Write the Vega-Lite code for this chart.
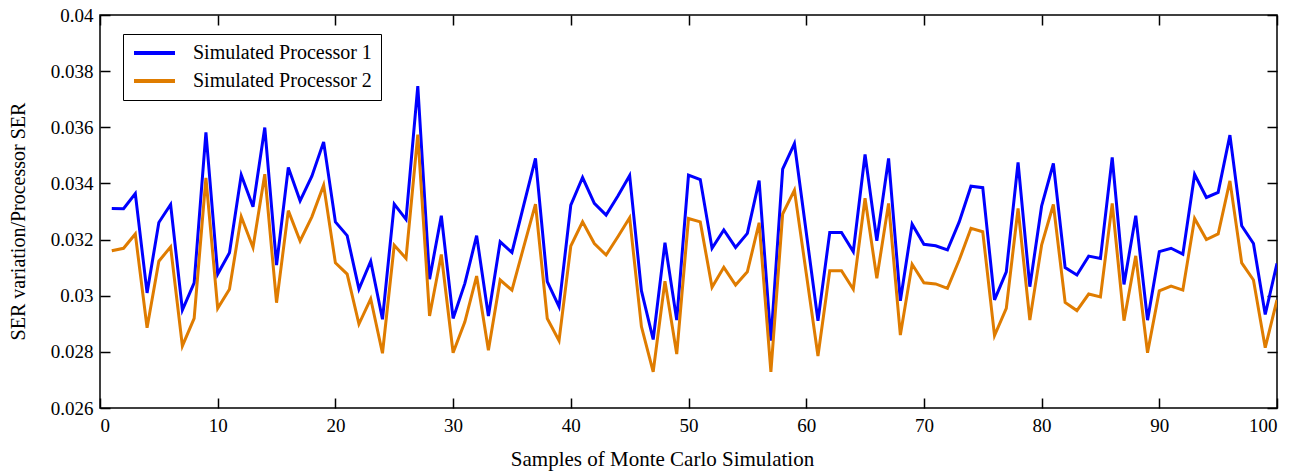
{
  "$schema": "https://vega.github.io/schema/vega-lite/v6.json",
  "width": 1177,
  "height": 393,
  "autosize": "none",
  "padding": {"left": 100, "top": 15, "right": 27, "bottom": 66},
  "background": "white",
  "config": {
    "view": {"stroke": "black", "strokeWidth": 1.5},
    "font": "Liberation Serif",
    "axis": {
      "domain": false,
      "grid": false,
      "tickColor": "black",
      "tickWidth": 1.5,
      "tickSize": -10,
      "labelFont": "Liberation Serif",
      "labelFontSize": 19,
      "labelColor": "black",
      "titleFont": "Liberation Serif",
      "titleFontSize": 20,
      "titleFontWeight": "normal",
      "titleColor": "black"
    }
  },
  "data": {
    "values": [
      {"s": 1, "p1": 0.03311, "p2": 0.0316},
      {"s": 2, "p1": 0.0331, "p2": 0.03169},
      {"s": 3, "p1": 0.03364, "p2": 0.0322},
      {"s": 4, "p1": 0.0301, "p2": 0.02886},
      {"s": 5, "p1": 0.03261, "p2": 0.03123},
      {"s": 6, "p1": 0.03325, "p2": 0.03174},
      {"s": 7, "p1": 0.02949, "p2": 0.02821},
      {"s": 8, "p1": 0.03046, "p2": 0.02919},
      {"s": 9, "p1": 0.03582, "p2": 0.0342},
      {"s": 10, "p1": 0.03077, "p2": 0.02955},
      {"s": 11, "p1": 0.03153, "p2": 0.03023},
      {"s": 12, "p1": 0.0343, "p2": 0.03281},
      {"s": 13, "p1": 0.03317, "p2": 0.03172},
      {"s": 14, "p1": 0.03599, "p2": 0.03433},
      {"s": 15, "p1": 0.03109, "p2": 0.02975},
      {"s": 16, "p1": 0.03457, "p2": 0.03303},
      {"s": 17, "p1": 0.03338, "p2": 0.03195},
      {"s": 18, "p1": 0.03426, "p2": 0.03281},
      {"s": 19, "p1": 0.03548, "p2": 0.03394},
      {"s": 20, "p1": 0.03263, "p2": 0.03117},
      {"s": 21, "p1": 0.03214, "p2": 0.03077},
      {"s": 22, "p1": 0.03024, "p2": 0.02899},
      {"s": 23, "p1": 0.03123, "p2": 0.02989},
      {"s": 24, "p1": 0.02916, "p2": 0.02795},
      {"s": 25, "p1": 0.03326, "p2": 0.0318},
      {"s": 26, "p1": 0.03272, "p2": 0.03133},
      {"s": 27, "p1": 0.03747, "p2": 0.03574},
      {"s": 28, "p1": 0.03059, "p2": 0.02928},
      {"s": 29, "p1": 0.03285, "p2": 0.03147},
      {"s": 30, "p1": 0.02919, "p2": 0.02797},
      {"s": 31, "p1": 0.03044, "p2": 0.02907},
      {"s": 32, "p1": 0.03214, "p2": 0.0307},
      {"s": 33, "p1": 0.02928, "p2": 0.02806},
      {"s": 34, "p1": 0.03192, "p2": 0.03056},
      {"s": 35, "p1": 0.03154, "p2": 0.0302},
      {"s": 36, "p1": 0.03323, "p2": 0.03174},
      {"s": 37, "p1": 0.03489, "p2": 0.03326},
      {"s": 38, "p1": 0.0305, "p2": 0.02919},
      {"s": 39, "p1": 0.02961, "p2": 0.0284},
      {"s": 40, "p1": 0.03323, "p2": 0.03177},
      {"s": 41, "p1": 0.03421, "p2": 0.03263},
      {"s": 42, "p1": 0.03329, "p2": 0.03186},
      {"s": 43, "p1": 0.03287, "p2": 0.03145},
      {"s": 44, "p1": 0.03355, "p2": 0.0321},
      {"s": 45, "p1": 0.03428, "p2": 0.03278},
      {"s": 46, "p1": 0.03018, "p2": 0.0289},
      {"s": 47, "p1": 0.02844, "p2": 0.02729},
      {"s": 48, "p1": 0.03189, "p2": 0.03052},
      {"s": 49, "p1": 0.02913, "p2": 0.02792},
      {"s": 50, "p1": 0.0343, "p2": 0.03275},
      {"s": 51, "p1": 0.03414, "p2": 0.03263},
      {"s": 52, "p1": 0.03169, "p2": 0.0303},
      {"s": 53, "p1": 0.03234, "p2": 0.03101},
      {"s": 54, "p1": 0.03172, "p2": 0.03038},
      {"s": 55, "p1": 0.03222, "p2": 0.03085},
      {"s": 56, "p1": 0.0341, "p2": 0.0326},
      {"s": 57, "p1": 0.0284, "p2": 0.02729},
      {"s": 58, "p1": 0.03451, "p2": 0.03291},
      {"s": 59, "p1": 0.03542, "p2": 0.03376},
      {"s": 60, "p1": 0.03227, "p2": 0.03081},
      {"s": 61, "p1": 0.02911, "p2": 0.02785},
      {"s": 62, "p1": 0.03225, "p2": 0.03089},
      {"s": 63, "p1": 0.03225, "p2": 0.03089},
      {"s": 64, "p1": 0.03157, "p2": 0.03023},
      {"s": 65, "p1": 0.03503, "p2": 0.03347},
      {"s": 66, "p1": 0.03196, "p2": 0.03062},
      {"s": 67, "p1": 0.03489, "p2": 0.03329},
      {"s": 68, "p1": 0.02982, "p2": 0.0286},
      {"s": 69, "p1": 0.03255, "p2": 0.03112},
      {"s": 70, "p1": 0.03183, "p2": 0.03046},
      {"s": 71, "p1": 0.03178, "p2": 0.03042},
      {"s": 72, "p1": 0.03163, "p2": 0.03026},
      {"s": 73, "p1": 0.03263, "p2": 0.03127},
      {"s": 74, "p1": 0.0339, "p2": 0.0324},
      {"s": 75, "p1": 0.03385, "p2": 0.03228},
      {"s": 76, "p1": 0.02985, "p2": 0.02858},
      {"s": 77, "p1": 0.03085, "p2": 0.02955},
      {"s": 78, "p1": 0.03475, "p2": 0.03311},
      {"s": 79, "p1": 0.03032, "p2": 0.02913},
      {"s": 80, "p1": 0.03319, "p2": 0.0318},
      {"s": 81, "p1": 0.03471, "p2": 0.03325},
      {"s": 82, "p1": 0.031, "p2": 0.02976},
      {"s": 83, "p1": 0.03074, "p2": 0.02947},
      {"s": 84, "p1": 0.03141, "p2": 0.03006},
      {"s": 85, "p1": 0.03133, "p2": 0.02996},
      {"s": 86, "p1": 0.03493, "p2": 0.03329},
      {"s": 87, "p1": 0.0304, "p2": 0.02911},
      {"s": 88, "p1": 0.03285, "p2": 0.03142},
      {"s": 89, "p1": 0.02913, "p2": 0.02797},
      {"s": 90, "p1": 0.03157, "p2": 0.03017},
      {"s": 91, "p1": 0.03169, "p2": 0.03034},
      {"s": 92, "p1": 0.03148, "p2": 0.0302},
      {"s": 93, "p1": 0.03432, "p2": 0.03275},
      {"s": 94, "p1": 0.0335, "p2": 0.032},
      {"s": 95, "p1": 0.03368, "p2": 0.0322},
      {"s": 96, "p1": 0.03572, "p2": 0.03409},
      {"s": 97, "p1": 0.03249, "p2": 0.03117},
      {"s": 98, "p1": 0.03186, "p2": 0.03056},
      {"s": 99, "p1": 0.02933, "p2": 0.02815},
      {"s": 100, "p1": 0.03115, "p2": 0.02985}
    ]
  },
  "transform": [{"fold": ["p1", "p2"], "as": ["series", "ser"]}],
  "layer": [
    {
      "mark": {"type": "line", "strokeWidth": 3, "clip": true},
      "encoding": {
        "x": {
          "field": "s",
          "type": "quantitative",
          "scale": {"domain": [0, 100], "nice": false, "zero": false},
          "axis": {
            "orient": "bottom",
            "values": [0, 10, 20, 30, 40, 50, 60, 70, 80, 90, 100],
            "title": "Samples of Monte Carlo Simulation",
            "titleFontSize": 21,
            "titleX": 562,
            "labelPadding": 18,
            "titlePadding": 13
          }
        },
        "y": {
          "field": "ser",
          "type": "quantitative",
          "scale": {"domain": [0.026, 0.04], "nice": false, "zero": false},
          "axis": {
            "orient": "left",
            "values": [0.026, 0.028, 0.03, 0.032, 0.034, 0.036, 0.038, 0.04],
            "format": "~g",
            "title": "SER variation/Processor SER",
            "titleY": 206,
            "labelPadding": 17,
            "titlePadding": 22
          }
        },
        "color": {
          "field": "series",
          "type": "nominal",
          "scale": {"domain": ["p1", "p2"], "range": ["#0000FF", "#DF7C00"]},
          "legend": {
            "title": null,
            "orient": "none",
            "legendX": 23,
            "legendY": 19,
            "labelExpr": "datum.value == 'p1' ? 'Simulated Processor 1' : 'Simulated Processor 2'",
            "labelFont": "Liberation Serif",
            "labelFontSize": 20,
            "labelColor": "black",
            "labelOffset": 16,
            "symbolType": "stroke",
            "symbolSize": 1681,
            "symbolStrokeWidth": 4,
            "clipHeight": 20,
            "strokeColor": "black",
            "fillColor": "white",
            "padding": 9,
            "rowPadding": 8,
            "labelLimit": 400
          }
        }
      }
    },
    {
      "mark": {"type": "point", "opacity": 0},
      "encoding": {
        "x": {
          "field": "s",
          "type": "quantitative",
          "axis": {
            "orient": "top",
            "values": [0, 10, 20, 30, 40, 50, 60, 70, 80, 90, 100],
            "labels": false,
            "title": null
          }
        },
        "y": {
          "field": "ser",
          "type": "quantitative",
          "axis": {
            "orient": "right",
            "values": [0.026, 0.028, 0.03, 0.032, 0.034, 0.036, 0.038, 0.04],
            "labels": false,
            "title": null
          }
        }
      }
    }
  ],
  "resolve": {"axis": {"x": "independent", "y": "independent"}}
}
